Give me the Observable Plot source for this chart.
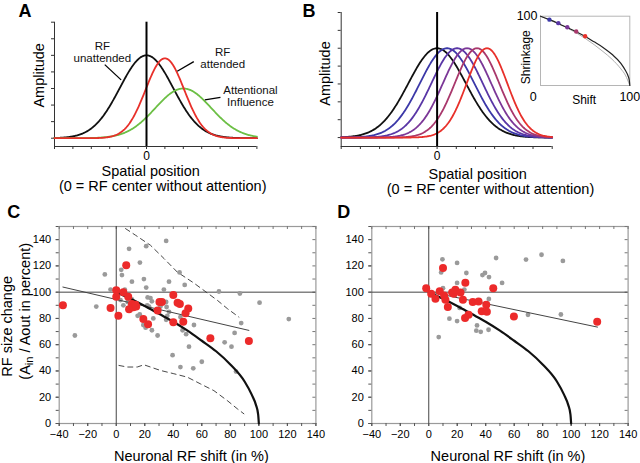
<!DOCTYPE html>
<html>
<head>
<meta charset="utf-8">
<script src="https://cdn.jsdelivr.net/npm/d3@7"></script>
<script src="https://cdn.jsdelivr.net/npm/@observablehq/plot@0.6"></script>
<style>
html,body{margin:0;padding:0;background:#fff;}
#fig{position:relative;width:640px;height:463px;overflow:hidden;background:#fff;font-family:"Liberation Sans",Arial,Helvetica,sans-serif;}
#fig svg{position:absolute;overflow:visible;max-width:none !important;background:transparent !important;}
</style>
</head>
<body>
<div id="fig"></div>
<script>
const FONT = '"Liberation Sans", Arial, Helvetica, sans-serif';

// ---------------- Panel A: Gaussian model curves (parameters) ----------------
const aCurveNames   = ["RF unattended", "Attentional Influence", "RF attended"];
const aCurveCenters = [0, 2.0, 1.0];
const aCurveWidths  = [1.45, 1.52, 1.05];
const aCurvePeaks   = [5, 3.0, 4.82];
const aCurveColors  = ["#111111", "#6cbf45", "#e8302a"];
const aLabelText = ["RF\nunattended", "RF\nattended", "Attentional\nInfluence"];
const aLabelX    = [-2.40, 4.14, 5.65];
const aLabelY    = [5.19, 4.83, 2.54];
const aLeaderX1 = [-2.27, 2.57, 4.02];
const aLeaderY1 = [4.44, 4.62, 2.47];
const aLeaderX2 = [-1.38, 1.67, 3.17];
const aLeaderY2 = [3.52, 4.04, 2.31];

// ---------------- Panel B: shifted / shrunk RFs ----------------
const bCurveCenters = [0, 0.52, 1.04, 1.56, 2.08, 2.6];
const bCurveWidths  = [1.5, 1.42, 1.34, 1.26, 1.16, 1.06];
const bCurvePeaks   = [5, 5, 5, 5, 5, 5];
const bCurveColors  = ["#111111", "#3b38a8", "#5936a6", "#7b3797", "#a9386c", "#e8302a"];

const abXTicks = [-5, -4, -3, -2, -1, 0, 1, 2, 3, 4, 5, 6];
const abYTicks = [0, 1, 2, 3, 4, 5, 6, 7];

// Inset (B): shrinkage vs shift
const modelShift = [0, 10, 20, 30, 40, 50, 60, 70, 80, 90, 95, 98, 99.5, 100];
const modelSize  = [100, 95, 89.5, 83.5, 77.5, 70.7, 63, 55, 45, 32, 22, 14, 7, 0];
const insetGrayShift = [0, 10, 20, 30, 40, 50, 60, 70, 80, 90, 95, 100];
const insetGraySize  = [100, 94.5, 89, 83, 76, 68, 59, 49, 38, 24, 15, 0];
const insetDotShift = [10, 20, 30, 40, 50];
const insetDotSize  = [95, 90, 84, 78, 71];

// ---------------- Panel C ----------------
const cGrayShift = [-29,-14,-8,-4,3.5,4,6,9,11,3,5,8,11,16.6,19.4,21,21,15,16.5,19,20.6,25,29,26,23,24,25,31,33.4,35,37,35,35.3,35.8,35,39.5,44.4,48,45,45,46.5,49,51,54.5,54,60,72,76,80.8,86.7,83,87.6,84,100.5,121,22,21.7,37];
const cGraySize  = [67,89,113.5,102,117,113,102,133,108,94,90,92.5,94.5,122.5,110,103.5,135,82,83,75,73,71,67,80,89,95.5,93,89,102,139,108,92.5,88.7,82,79,52,115,105.5,43,81,71,68,58.5,75,42,47,100.5,61.8,58.5,99,69,76.5,39.5,92,79.5,96,90,85];
const cRedShift = [-37.4,-4,0,0,1.5,5,7,8.4,9,11,12,13.5,14,19,22.3,29,30.3,32,40,40,43,44.6,47,48.6,50.5,66,93];
const cRedSize  = [90,88,101.5,96.5,82,100,120.5,96.5,87,91,88.5,90.5,89,79.5,75.5,86,92.5,92.5,97.8,77,92,91,77.5,84,87.5,65,62.8];
const cUpperShift = [6.5,13.6,24,33.6,42.8,54.5,64,71,78,86];
const cUpperSize  = [148.4,143.3,135.7,125.5,115.3,106.9,99.3,93.7,87.4,81];
const cLowerShift = [1.9,7.7,14.7,19.4,31,40.4,49.8,59,68.5,77.8,84.9,89.5];
const cLowerSize  = [44.2,43,43,44.7,40.4,37.9,35.3,30.2,25,17.5,11.2,7.4];
const cFitShift = [-37.4, 93];
const cFitSize  = [103.9, 70.9];

// ---------------- Panel D ----------------
const dGrayShift = [7,9.6,8.7,10,14.5,19.9,19.9,19.9,21.7,25,26.4,26.9,33.4,33.9,36.5,37.7,39.5,42.3,42.2,42,47.3,51.5,68.3,69.7,79.2,92.8,94.2];
const dGraySize  = [65.8,125,115,103,79.8,122.3,107,78,88,102,114.6,83.6,70.7,74.7,69.8,113,114.6,111.5,94.8,71.4,126,107,124.8,82.8,128.5,83,123.8];
const dRedShift = [-1.8,1.7,4.7,7.7,10,10.8,11.7,13.4,16.4,17.5,18.7,22.3,24,25.7,25.5,28,30.9,35,37.2,40.4,40.8,45.3,59.8,118.3];
const dRedSize  = [103,98.8,95,100.7,118.4,97.5,94.3,88.7,99.8,98.8,101.8,99.8,94.3,107.2,80.4,82.8,92.5,92.8,85.4,90.4,85,103,81.4,77.5];
const dFitShift = [1.2, 118.5];
const dFitSize  = [100.1, 73.4];

const shiftTicks = [-40, -20, 0, 20, 40, 60, 80, 100, 120, 140];
const shiftMinorTicks = [-40,-30,-20,-10,0,10,20,30,40,50,60,70,80,90,100,110,120,130,140];
const sizeTicks = [0, 20, 40, 60, 80, 100, 120, 140];
const sizeMinorTicks = [0,10,20,30,40,50,60,70,80,90,100,110,120,130,140,150];

// ---------------- helpers ----------------
const fig = document.getElementById("fig");
function place(svg, left, top) {
  svg.style.left = left + "px";
  svg.style.top = top + "px";
  fig.appendChild(svg);
}
const zipXY = (xs, ys) => xs.map((x, i) => ({x, y: ys[i]}));
const gaussGrid = d3.range(-5, 6.0001, 0.04);
function gaussCurve(c, s, a) {
  return gaussGrid.map(x => ({x, y: a * Math.exp(-((x - c) ** 2) / (2 * s * s))}));
}
const T = (s) => [s];
const ident = d => d;
const MID = {textAnchor: "middle", lineAnchor: "middle"};

// ---------------- Panel A ----------------
const panelA = Plot.plot({
  width: 320, height: 200,
  marginLeft: 54, marginRight: 63.6, marginTop: 21.7, marginBottom: 54,
  style: {fontFamily: FONT},
  x: {domain: [-5, 6]},
  y: {domain: [-0.5, 7]},
  marks: [
    Plot.axisX({ticks: abXTicks, tickSize: 3, tickPadding: 2, tickFormat: d => d === 0 ? "0" : "", fontSize: 12, label: null, stroke: "#333"}),
    Plot.axisY({ticks: abYTicks, tickSize: 3, tickFormat: () => "", label: null, stroke: "#333"}),
    Plot.ruleY([-0.5], {stroke: "#333"}),
    Plot.ruleX([-5], {y1: -0.5, y2: 7, stroke: "#333"}),
    ...aCurveNames.map((n, i) => Plot.line(gaussCurve(aCurveCenters[i], aCurveWidths[i], aCurvePeaks[i]), {x: "x", y: "y", stroke: aCurveColors[i], strokeWidth: 1.8})),
    Plot.ruleX([0], {y1: -0.5, y2: 7, stroke: "#000", strokeWidth: 2}),
    Plot.link(aLeaderX1.map((x, i) => i), {x1: i => aLeaderX1[i], y1: i => aLeaderY1[i], x2: i => aLeaderX2[i], y2: i => aLeaderY2[i], stroke: "#000", strokeWidth: 1.3}),
    Plot.text(aLabelText.map((t, i) => i), {x: i => aLabelX[i], y: i => aLabelY[i], text: i => aLabelText[i], fontSize: 11.5, lineHeight: 1.05, fill: "#111", ...MID}),
    Plot.text(T("Amplitude"), {text: ident, frameAnchor: "left", rotate: -90, dx: -15, dy: -9, fontSize: 14.5, ...MID}),
    Plot.text(T("Spatial position"), {text: ident, frameAnchor: "bottom", dx: -5, dy: 24.9, fontSize: 14.5, ...MID}),
    Plot.text(T("(0 = RF center without attention)"), {text: ident, frameAnchor: "bottom", dx: 7, dy: 40, fontSize: 14.5, ...MID}),
    Plot.text(T("A"), {text: ident, frameAnchor: "top-left", textAnchor: "start", lineAnchor: "top", dx: -36, dy: -18.2, fontSize: 18, fontWeight: "bold"})
  ]
});
place(panelA, 0, 0);

// ---------------- Panel B ----------------
const panelB = Plot.plot({
  width: 344, height: 200,
  marginLeft: 44.7, marginRight: 88.3, marginTop: 12, marginBottom: 54,
  style: {fontFamily: FONT},
  x: {domain: [-5, 6]},
  y: {domain: [-0.5, 7]},
  marks: [
    Plot.axisX({ticks: abXTicks, tickSize: 3, tickPadding: 2, tickFormat: d => d === 0 ? "0" : "", fontSize: 12, label: null, stroke: "#333"}),
    Plot.axisY({ticks: abYTicks, tickSize: 3, tickFormat: () => "", label: null, stroke: "#333"}),
    Plot.ruleY([-0.5], {stroke: "#333"}),
    Plot.ruleX([-5], {y1: -0.5, y2: 7, stroke: "#333"}),
    ...bCurveCenters.map((c, i) => Plot.line(gaussCurve(c, bCurveWidths[i], bCurvePeaks[i]), {x: "x", y: "y", stroke: bCurveColors[i], strokeWidth: 1.8})),
    Plot.ruleX([0], {y1: -0.5, y2: 7, stroke: "#000", strokeWidth: 2}),
    Plot.text(T("Amplitude"), {text: ident, frameAnchor: "left", rotate: -90, dx: -15.7, dy: -6, fontSize: 14.5, ...MID}),
    Plot.text(T("Spatial position"), {text: ident, frameAnchor: "bottom", dx: 31, dy: 28, fontSize: 14.5, ...MID}),
    Plot.text(T("(0 = RF center without attention)"), {text: ident, frameAnchor: "bottom", dx: 43.8, dy: 43, fontSize: 14.5, ...MID}),
    Plot.text(T("B"), {text: ident, frameAnchor: "top-left", textAnchor: "start", lineAnchor: "top", dx: -38.7, dy: -8.5, fontSize: 18, fontWeight: "bold"})
  ]
});
place(panelB, 296, 0);

// ---------------- Inset ----------------
const inset = Plot.plot({
  width: 140, height: 110,
  marginLeft: 40, marginRight: 10.7, marginTop: 15.7, marginBottom: 25,
  style: {fontFamily: FONT},
  x: {domain: [0, 100], axis: null},
  y: {domain: [0, 100], axis: null},
  marks: [
    Plot.frame({stroke: "#b5b5b5"}),
    Plot.line(zipXY(insetGrayShift, insetGraySize), {x: "x", y: "y", stroke: "#b0b0b0", strokeWidth: 1, curve: "monotone-x"}),
    Plot.line(zipXY(modelShift, modelSize), {x: "x", y: "y", stroke: "#222", strokeWidth: 1.2, curve: "monotone-x"}),
    Plot.dot(zipXY(insetDotShift, insetDotSize), {x: "x", y: "y", r: 2.2, fill: (d, i) => bCurveColors[i + 1], stroke: "none"}),
    Plot.text(T("100"), {text: ident, frameAnchor: "top-left", textAnchor: "end", lineAnchor: "middle", dx: -3, dy: -0.7, fontSize: 12.5}),
    Plot.text(T("0"), {text: ident, frameAnchor: "bottom-left", dx: -7.3, dy: 11.7, fontSize: 12.5, ...MID}),
    Plot.text(T("100"), {text: ident, frameAnchor: "bottom-right", dx: 0, dy: 11.7, fontSize: 12.5, ...MID}),
    Plot.text(T("Shift"), {text: ident, frameAnchor: "bottom", dx: -1, dy: 15, fontSize: 12, ...MID}),
    Plot.text(T("Shrinkage"), {text: ident, frameAnchor: "left", rotate: -90, dx: -14.2, dy: 6.4, fontSize: 12, ...MID})
  ]
});
place(inset, 500, 0);

// ---------------- Panels C and D ----------------
function scatterPanel(cfg) {
  const plotW = cfg.width - cfg.marginLeft - cfg.marginRight;
  const plotH = cfg.height - cfg.marginTop - cfg.marginBottom;
  const marks = [
    Plot.frame({stroke: "#9a9a9a", strokeWidth: 1.2}),
    Plot.axisX({ticks: shiftMinorTicks, tickSize: 3, tickFormat: () => "", label: null, stroke: "#555"}),
    Plot.axisX({ticks: shiftTicks, tickSize: 3, tickPadding: 4, fontSize: 11, label: null, stroke: "#555"}),
    Plot.axisY({ticks: sizeMinorTicks, tickSize: 3, tickFormat: () => "", label: null, stroke: "#555"}),
    Plot.axisY({ticks: sizeTicks, tickSize: 3, tickPadding: 5, fontSize: 11, label: null, stroke: "#555"}),
    Plot.tickX(shiftMinorTicks, {x: ident, insetBottom: plotH - 3, stroke: "#777"}),
    Plot.tickY(sizeMinorTicks, {y: ident, insetLeft: plotW - 3, stroke: "#777"}),
    Plot.ruleY([100], {stroke: "#444", strokeWidth: 1}),
    Plot.ruleX([0], {stroke: "#444", strokeWidth: 1}),
    ...cfg.extra,
    Plot.dot(zipXY(cfg.grayShift, cfg.graySize), {x: "x", y: "y", r: 2.4, fill: "#9a9a9a", stroke: "none"}),
    Plot.line(zipXY(cfg.fitShift, cfg.fitSize), {x: "x", y: "y", stroke: "#444", strokeWidth: 1}),
    Plot.line(zipXY(modelShift, modelSize), {x: "x", y: "y", stroke: "#111", strokeWidth: 2.2, curve: "monotone-x"}),
    Plot.dot(zipXY(cfg.redShift, cfg.redSize), {x: "x", y: "y", r: 4, fill: "#ec2a2a", stroke: "none"}),
    Plot.text(T("Neuronal RF shift (in %)"), {text: ident, frameAnchor: "bottom", dx: cfg.xLabelDx, dy: 32.8, fontSize: 14.5, ...MID}),
    Plot.text(T(cfg.letter), {text: ident, frameAnchor: "top-left", textAnchor: "start", lineAnchor: "top", dx: cfg.letterDx, dy: -21, fontSize: 18, fontWeight: "bold"}),
    ...cfg.yLabels
  ];
  return Plot.plot({
    width: cfg.width, height: cfg.height,
    marginLeft: cfg.marginLeft, marginRight: cfg.marginRight, marginTop: cfg.marginTop, marginBottom: cfg.marginBottom,
    style: {fontFamily: FONT},
    x: {domain: [-40, 140]},
    y: {domain: [0, 150]},
    marks
  });
}

const panelC = scatterPanel({
  width: 340, height: 263, marginLeft: 58.7, marginRight: 24.6, marginTop: 26, marginBottom: 40,
  grayShift: cGrayShift, graySize: cGraySize, redShift: cRedShift, redSize: cRedSize,
  fitShift: cFitShift, fitSize: cFitSize, letter: "C", letterDx: -52, xLabelDx: 3.8,
  extra: [
    Plot.line(zipXY(cUpperShift, cUpperSize), {x: "x", y: "y", stroke: "#333", strokeWidth: 0.9, strokeDasharray: "5,4"}),
    Plot.line(zipXY(cLowerShift, cLowerSize), {x: "x", y: "y", stroke: "#333", strokeWidth: 0.9, strokeDasharray: "5,4"})
  ],
  yLabels: [
    Plot.text(T("RF size change"), {text: ident, frameAnchor: "left", rotate: -90, dx: -52.2, dy: 1.3, fontSize: 14.5, ...MID}),
    Plot.text(T("(Ain / Aout in percent)"), {text: ident, frameAnchor: "left", rotate: -90, dx: -33.4, dy: -13.7, fontSize: 14.5, ...MID})
  ]
});
place(panelC, 0, 200);
// subscript "in"
for (const el of panelC.querySelectorAll("text")) {
  if (el.textContent === "(Ain / Aout in percent)") {
    el.textContent = "";
    const parts = [["(A", null], ["in", "sub"], [" / Aout in percent)", "back"]];
    for (const [s, kind] of parts) {
      const ts = document.createElementNS("http://www.w3.org/2000/svg", "tspan");
      ts.textContent = s;
      if (kind === "sub") { ts.setAttribute("font-size", "11"); ts.setAttribute("dy", "3"); }
      if (kind === "back") { ts.setAttribute("dy", "-3"); }
      el.appendChild(ts);
    }
  }
}

const panelD = scatterPanel({
  width: 320, height: 263, marginLeft: 51.3, marginRight: 12.4, marginTop: 26, marginBottom: 40,
  grayShift: dGrayShift, graySize: dGraySize, redShift: dRedShift, redSize: dRedSize,
  fitShift: dFitShift, fitSize: dFitSize, letter: "D", letterDx: -34.6, xLabelDx: 8,
  extra: [], yLabels: []
});
place(panelD, 320, 200);
</script>
</body>
</html>
